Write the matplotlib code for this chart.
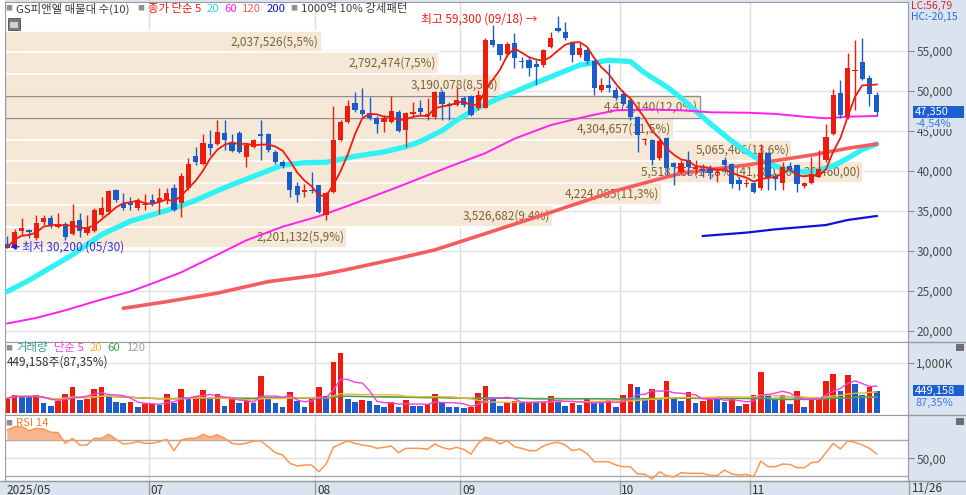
import matplotlib
matplotlib.use("Agg")
import matplotlib.pyplot as plt
import matplotlib.transforms as mtransforms
from matplotlib.patches import Rectangle
from matplotlib.lines import Line2D
from matplotlib.ticker import FuncFormatter
import numpy as np
import pandas as pd

plt.rcParams['font.family'] = ['Noto Sans CJK KR', 'DejaVu Sans']

# daily candles, 2025-05-29 .. 2025-11-26
opens = [30800, 30400, 32450, 32600, 31550, 33600, 34150, 33000, 33400, 32150,
         33900, 32250, 32500, 34450, 34900, 37650, 35900, 36000, 35300, 35700,
         36400, 36150, 36350, 37900, 36000, 37900, 41850, 40850, 43400, 43400,
         44700, 43650, 44750, 41700, 43000, 44600, 44600, 42400, 41100, 39900,
         38100, 37400, 37600, 38200, 34500, 37400, 43850, 46150, 48500, 47650,
         47250, 46650, 46150, 46100, 47400, 45100, 47150, 47850, 46800, 46750,
         49850, 48400, 48200, 49100, 49300, 47800, 47900, 56350, 55800, 54650,
         56000, 53750, 53900, 53400, 53200, 55500, 57800, 57400, 56000, 54450,
         55150, 53750, 50100, 50700, 50100, 49650, 48900, 46750, 43800, 43900,
         41550, 44150, 41000, 39900, 41350, 40250, 40200, 40200, 39700, 41400,
         40900, 38900, 38300, 38500, 37800, 42200, 39300, 38500, 40600, 40700,
         38050, 38500, 39250, 41300, 44650, 49700, 46700, 52500, 53650, 51650, 49500]
highs = [31800, 32700, 34150, 32700, 34450, 34450, 34450, 34750, 33600, 35900,
         34750, 34450, 35400, 36750, 37650, 37700, 37250, 36750, 36650, 37150,
         37100, 37900, 37900, 38350, 39750, 41550, 43000, 44600, 45150, 46400,
         46400, 44650, 45000, 43500, 44000, 46400, 44700, 42600, 41300, 39900,
         38600, 38400, 39900, 38200, 37300, 48100, 46350, 48800, 49900, 50300,
         49200, 46900, 46950, 49300, 47600, 47400, 48600, 48800, 49100, 50000,
         50100, 48650, 50300, 49300, 49500, 50100, 56550, 58200, 55900, 56150,
         57200, 54250, 54350, 53850, 55200, 57400, 59300, 58600, 56150, 56150,
         55300, 53850, 51550, 53400, 50500, 50100, 49150, 46900, 44100, 44000,
         44000, 44250, 41100, 41300, 42500, 41300, 40900, 40700, 40400, 41750,
         41000, 39250, 39000, 38600, 43400, 42400, 39700, 41100, 41100, 40900,
         38600, 41700, 42600, 45800, 50200, 51300, 54750, 56350, 56550, 52000, 49900]
lows = [30300, 30200, 31950, 31600, 31350, 33200, 32800, 32800, 31350, 31950,
        31750, 31950, 32400, 34250, 34650, 36100, 35100, 35100, 35100, 35100,
        35600, 34650, 35900, 35000, 34250, 37650, 40700, 40700, 41950, 43200,
        42600, 42400, 42250, 40500, 42800, 41300, 42400, 40900, 40400, 36750,
        36100, 36750, 37200, 34700, 33900, 37200, 43700, 46000, 47400, 46800,
        46300, 44700, 44900, 46000, 44850, 43000, 46700, 46900, 46300, 46500,
        46300, 46300, 48050, 48000, 46800, 47600, 47800, 55500, 53850, 54250,
        52800, 52800, 51800, 50700, 53000, 55300, 57400, 56350, 53650, 54250,
        53400, 49450, 49900, 49900, 48900, 48200, 46350, 42400, 43200, 40700,
        41300, 39450, 38200, 39700, 39500, 39650, 39200, 39000, 38600, 39900,
        37800, 37600, 38000, 37200, 37600, 37600, 37600, 37600, 39900, 37400,
        37900, 38300, 39200, 41100, 44450, 46650, 46500, 47600, 51350, 48100, 46850]
closes = [30400, 32400, 32800, 32300, 33500, 34050, 33100, 33300, 31750, 33750,
          32500, 32800, 35100, 35300, 37500, 36350, 35400, 35700, 36350, 35900,
          35900, 36650, 37250, 35100, 39350, 40850, 41150, 43500, 42800, 44900,
          43900, 42500, 42400, 43200, 43850, 44350, 42600, 41100, 40600, 37600,
          37000, 37600, 37500, 34900, 37250, 43850, 46150, 48100, 47600, 47150,
          46550, 45850, 46600, 47500, 45000, 47200, 47350, 47400, 47150, 49850,
          48400, 48100, 48850, 48250, 47000, 49500, 56400, 55700, 54450, 55900,
          54050, 53650, 52900, 53000, 55100, 56550, 57500, 56550, 54450, 55300,
          53750, 50400, 50700, 50300, 49150, 48400, 46700, 44450, 44000, 41350,
          43750, 40400, 40500, 41000, 40500, 40450, 40000, 39750, 39850, 40700,
          38350, 38350, 38450, 37400, 42250, 39050, 39000, 40500, 40150, 38400,
          38450, 39600, 40200, 44250, 49450, 46950, 52900, 52600, 51450, 49600, 47350]
volumes = [300000, 367000, 333000, 330000, 353000, 213000, 147000, 253000, 387000, 513000,
           267000, 280000, 480000, 513000, 313000, 233000, 213000, 233000, 120000, 187000,
           190000, 167000, 373000, 213000, 480000, 280000, 333000, 460000, 293000, 373000,
           147000, 280000, 213000, 247000, 213000, 733000, 300000, 213000, 133000, 413000,
           253000, 133000, 300000, 520000, 333000, 1020000, 1200000, 280000, 233000, 267000,
           247000, 167000, 133000, 233000, 133000, 267000, 147000, 145000, 187000, 373000,
           213000, 133000, 120000, 100000, 133000, 407000, 533000, 287000, 153000, 213000,
           247000, 200000, 233000, 213000, 220000, 333000, 267000, 153000, 200000, 167000,
           300000, 200000, 195000, 267000, 120000, 353000, 587000, 520000, 300000, 480000,
           300000, 647000, 300000, 253000, 413000, 213000, 247000, 300000, 295000, 233000,
           280000, 147000, 187000, 367000, 820000, 347000, 280000, 367000, 187000, 447000,
           120000, 300000, 313000, 647000, 787000, 433000, 767000, 587000, 367000, 514200, 449158]
rsi14 = [81.5, 85.2, 85.2, 80.8, 83.4, 82.6, 79.0, 78.6, 66.6, 72.2,
         64.7, 64.7, 72.2, 72.2, 76.7, 71.1, 65.9, 66.6, 68.5, 66.6,
         66.6, 68.5, 71.1, 58.4, 70.3, 72.2, 72.2, 76.7, 73.4, 76.3,
         72.2, 66.6, 65.5, 66.6, 69.3, 69.3, 62.8, 56.1, 53.5, 44.2,
         41.2, 42.3, 42.3, 34.8, 43.4, 62.1, 65.9, 69.3, 66.6, 64.7,
         63.6, 61.0, 62.1, 63.6, 56.1, 61.0, 61.0, 61.0, 59.9, 65.9,
         62.1, 59.9, 62.1, 59.9, 54.6, 66.6, 73.4, 71.1, 65.9, 69.6,
         62.8, 61.0, 58.4, 58.4, 63.6, 66.6, 67.8, 64.7, 58.4, 60.2,
         55.3, 46.0, 46.0, 46.0, 42.3, 40.4, 40.4, 32.2, 32.0, 26.6,
         34.8, 30.3, 29.0, 33.7, 33.0, 33.0, 33.0, 30.6, 30.6, 36.7,
         32.2, 31.0, 31.8, 29.2, 46.8, 40.4, 40.4, 43.4, 43.0, 39.3,
         39.3, 44.9, 46.0, 56.1, 66.6, 60.2, 69.3, 67.8, 64.7, 61.0, 54.6]

# moving averages (they need history before the first candle)
ma20_idx = [0, 3, 6, 9, 13, 17, 20, 23, 26, 29, 31, 34, 38, 41, 44, 48, 52, 55, 57, 60, 62,
            65, 68, 73, 79, 83, 86, 88, 91, 93, 95, 97, 100, 102, 104, 107, 109, 111, 114, 116, 118, 120]
ma20_val = [24900, 26300, 27900, 29500, 32000, 33700, 34500, 35300, 36300, 37500, 38250, 39300,
            40700, 41000, 41050, 41800, 42350, 43000, 43650, 45000, 46300, 47900, 49100, 51000,
            53200, 53800, 53650, 52200, 50500, 49100, 47500, 45900, 43700, 42400, 41250, 40250,
            39880, 39850, 40600, 41550, 42650, 43340]
ma60_idx = [0, 4, 8, 13, 17, 20, 24, 29, 33, 38, 43, 47, 54, 61, 66, 70, 75, 80, 84, 89, 93,
            97, 102, 106, 110, 113, 116, 120]
ma60_val = [20900, 21600, 22550, 23900, 24900, 25900, 27300, 29500, 31300, 33000, 34300, 35600,
            38000, 40500, 42200, 44000, 45700, 46800, 47550, 47650, 47550, 47300, 47250, 47100,
            46750, 46550, 46750, 46840]
ma120_idx = [16, 22, 29, 36, 43, 47, 54, 59, 65, 74, 84, 93, 102, 111, 116, 120]
ma120_val = [22800, 23630, 24700, 26130, 26950, 27670, 29050, 30100, 31850, 34500, 37500, 39700,
             40700, 41950, 42800, 43340]
ma200_idx = [96, 102, 106, 113, 116, 120]
ma200_val = [31840, 32260, 32670, 33210, 33840, 34340]

# volume profile (매물대), bottom band first
band_base = 30300
band_step = 2720
band_vols = [2201132, 3526682, 4224085, 5518255, 5065466, 4304657, 4474140, 3190078, 2792474, 2037526]

month_pos = [19.5, 42.5, 62.5, 84.5, 102.5]
month_labels = ['07', '08', '09', '10', '11']
first_label = '2025/05'
last_label = '11/26'
hi_date = '09/18'
lo_date = '05/30'

W, H = 966, 495
fig = plt.figure(figsize=(W / 100, H / 100), dpi=100, facecolor='#d9e4f0')
renderer = fig.canvas.get_renderer()


def add_ax(l, t, r, b):
    return fig.add_axes([l / W, 1 - b / H, (r - l) / W, (b - t) / H])


def ftext(x, y, s, **kw):
    kw.setdefault('va', 'center')
    kw.setdefault('fontsize', 8.5)
    return fig.text(x / W, 1 - y / H, s, **kw)


def frect(x, y, w, h, **kw):
    fig.add_artist(Rectangle((x / W, 1 - (y + h) / H), w / W, h / H,
                             transform=fig.transFigure, **kw))


def fline(x0, y0, x1, y1, **kw):
    fig.add_artist(Line2D([x0 / W, x1 / W], [1 - y0 / H, 1 - y1 / H],
                          transform=fig.transFigure, **kw))


def legend_row(x0, y, parts, fs=8.2):
    # lay the pieces one after another, return their pixel extents
    spans = []
    xp = x0
    for s, col, gap in parts:
        t = ftext(xp, y, s, color=col, fontsize=5 if s == '■' else fs)
        w = t.get_window_extent(renderer).width
        spans.append((xp, xp + w))
        xp += w + gap
    return spans


frect(0, 0, 5, 481, facecolor='white', edgecolor='none')

ax1 = add_ax(5, 2, 908, 341.7)
ax2 = add_ax(5, 341.7, 908, 414.5)
ax3 = add_ax(5, 414.5, 908, 481)

x = np.arange(len(closes))
o = np.array(opens); h = np.array(highs); l = np.array(lows); c = np.array(closes)

for ax in (ax1, ax2, ax3):
    ax.set_facecolor('white')
    ax.set_xlim(-0.32, 124.32)
    ax.set_xticks(month_pos)
    ax.tick_params(axis='x', bottom=False, labelbottom=False)
    ax.grid(True, axis='x', color='#dedede', lw=1)
    ax.set_axisbelow(True)
    for sp in ax.spines.values():
        sp.set_color('#9a9a9a')
    ax.yaxis.tick_right()
    ax.tick_params(axis='y', length=4, width=0.8, color='#8a8a8a', labelsize=8.5,
                   labelcolor='#4a4a4a', pad=2)

# ---- price panel ----
ax1.set_ylim(18625, 61088)
ax1.set_yticks(np.arange(20000, 55001, 5000))
ax1.yaxis.set_major_formatter(FuncFormatter(lambda v, p: f"{int(v):,}"))
ax1.grid(True, axis='y', color='#e2e2e2', lw=1)

bv = np.array(band_vols)
band_lo = band_base + band_step * np.arange(len(bv))
mids = band_lo + band_step / 2
left = -0.32
widths = bv / bv.max() * 118.4
cur = int((c[-1] - band_base) // band_step)
big = int(bv.argmax())
ax1.barh(mids, widths, height=band_step, left=left, color='#f6e8d6',
         edgecolor='white', linewidth=1.2, zorder=1)
ax1.add_patch(Rectangle((left, band_lo[cur]), widths[cur], band_step, fill=False,
                        edgecolor='#8f8f8f', lw=1, zorder=1.5))
total = bv.sum()
for k, v in enumerate(bv):
    s = f"{v:,}(" + f"{v / total * 100:.1f}".replace('.', ',') + "%)"
    if k == big:
        s += f"({band_lo[k] + band_step:,.2f} ~ {band_lo[k]:,.2f})".replace('.', ',')
    ax1.text(left + widths[k] - 0.4, mids[k], s, ha='right', va='center',
             fontsize=8.5, color='#7b6335', zorder=2)

ax1.plot(ma20_idx, ma20_val, color='#30f2f4', lw=3.8, zorder=3, solid_capstyle='round')
ax1.plot(ma60_idx, ma60_val, color='#ff20f0', lw=1.4, zorder=3)
ax1.plot(ma120_idx, ma120_val, color='#f65c5c', lw=2.6, zorder=3, solid_capstyle='round')
ax1.plot(ma200_idx, ma200_val, color='#1010dd', lw=1.6, zorder=3)

up = c >= o
ccol = np.where(up, '#ee1c0e', '#1a5ccc')
ax1.vlines(x, l, h, colors=ccol, lw=1, zorder=4)
ax1.bar(x, np.maximum(np.abs(c - o), 80), bottom=np.minimum(o, c), width=0.72,
        color=ccol, linewidth=0, zorder=4)

ma5 = pd.Series(c).rolling(5, min_periods=1).mean()
ax1.plot(x, ma5, color='#ee1c0e', lw=1.3, zorder=5)

imax = int(h.argmax())
ax1.text(imax - 2.9, h[imax] - 400, f"최고 {h[imax]:,} ({hi_date}) →", ha='right',
         va='center', color='#ee1c0e', fontsize=8.5, zorder=6)
imin = int(l.argmin())
ax1.annotate(f"최저 {l[imin]:,} ({lo_date})", xy=(imin - 0.6, l[imin] + 300),
             xytext=(imin + 1.0, l[imin] + 300), ha='left', va='center',
             color='#3030e8', fontsize=8.5, zorder=6,
             arrowprops=dict(arrowstyle='-|>', color='#2020e0', lw=1,
                             shrinkA=0, shrinkB=0, mutation_scale=8))

# ---- volume panel ----
vol = np.array(volumes)
vup = np.r_[True, vol[1:] >= vol[:-1]]
ax2.bar(x, vol, width=0.78, color=np.where(vup, '#ee1c0e', '#1a5ccc'), linewidth=0, zorder=2)
vs = pd.Series(vol)
for n, col in zip([120, 60, 20, 5], ['#a6a6a6', '#3aa64a', '#f2b431', '#f040e0']):
    ax2.plot(x, vs.rolling(n, min_periods=1).mean(), color=col, lw=1, zorder=3)
ax2.set_ylim(-23800, 1417700)
ax2.set_yticks([1000000])
ax2.set_yticklabels(['1,000K'])
ax2.grid(True, axis='y', color='#e2e2e2', lw=1)

# ---- RSI panel ----
r = np.array(rsi14)
ax3.fill_between(x, r, 70, where=r >= 70, interpolate=True, color='#f6b590', lw=0, zorder=2)
ax3.plot(x, r, color='#ff9650', lw=1.1, zorder=3)
ax3.axhline(70, color='#a8a8a8', lw=1, zorder=1)
ax3.axhline(30, color='#a8a8a8', lw=1, zorder=1)
ax3.set_ylim(24.4, 98.9)
ax3.set_yticks([50])
ax3.set_yticklabels(['50,00'])
ax3.grid(True, axis='y', color='#e2e2e2', lw=1)

# ---- date strip ----
blend = mtransforms.blended_transform_factory(ax3.transData, ax3.transAxes)
ax3.text(-0.1, -0.04, first_label, transform=blend, ha='left', va='top',
         fontsize=8.5, color='#333333', clip_on=False)
for pos, lab in zip(month_pos, month_labels):
    ax3.plot([pos, pos], [0, -0.22], transform=blend, color='#9a9a9a', lw=1, clip_on=False)
    ax3.text(pos + 0.25, -0.04, lab, transform=blend, ha='left', va='top',
             fontsize=8.5, color='#333333', clip_on=False)
ftext(912, 488, last_label, color='#333333')

fline(908, 341.7, 966, 341.7, color='#9a9a9a', lw=1)
fline(908, 414.5, 966, 414.5, color='#9a9a9a', lw=1)
fline(0, 481, 966, 481, color='#9a9a9a', lw=1)
fline(908.5, 481, 908.5, 495, color='#9a9a9a', lw=1)

# ---- legends ----
spans = legend_row(5, 8.5, [('■', '#909090', 4), ('GS피앤엘 매물대 수(10)', '#3c3c3c', 8),
                            ('■', '#909090', 4), ('종가 단순 5', '#ee1c0e', 5),
                            ('20', '#22dde0', 5), ('60', '#ff20f0', 5), ('120', '#f65c5c', 5),
                            ('200', '#1010dd', 5), ('■', '#909090', 4),
                            ('1000억 10% 강세패턴', '#3c3c3c', 0)])
bx0, bx1 = spans[1]
frect(bx0 - 3, 2, bx1 - bx0 + 5, 13, facecolor='#e6e6e6', edgecolor='#b4b4b4', lw=0.8, zorder=0)
frect(8, 18, 12, 12, facecolor='#7a7a7a', edgecolor='#505050', lw=0.6)
frect(10, 22, 8, 6, facecolor='#d0d0d0', edgecolor='none')

legend_row(5, 348, [('■', '#909090', 4), ('거래량', '#2f9c9c', 6), ('단순 5', '#f040e0', 6),
                    ('20', '#f2b431', 6), ('60', '#3aa64a', 6), ('120', '#a0a0a0', 0)])
ftext(7, 362, f"{vol[-1]:,}주(" + f"{vol[-1] / vol[-2] * 100:.2f}".replace('.', ',') + "%)",
      color='#333333')
legend_row(5, 423, [('■', '#909090', 4), ('RSI 14', '#f08030', 0)])

# ---- right side boxes ----
ftext(911, 6, 'LC:56,79', color='#e82020', fontsize=7.5)
ftext(911, 17, 'HC:-20,15', color='#2a6ad8', fontsize=7.5)
yc = H - ax1.transData.transform((0, c[-1]))[1]
frect(912.5, yc - 5.8, 51.5, 11.6, facecolor='#1c5fd0', edgecolor='none')
ftext(915, yc, f"{c[-1]:,}", color='white', fontsize=8)
chg = (c[-1] / c[-2] - 1) * 100
ftext(915, yc + 12, f"{chg:.2f}%".replace('.', ','), color='#3a7ae0', fontsize=8,
      bbox=dict(facecolor='#d9e4f0', edgecolor='none', pad=0.3))

yv = H - ax2.transData.transform((0, vol[-1]))[1]
frect(912.5, yv - 5.8, 51.5, 11.6, facecolor='#1c5fd0', edgecolor='none')
ftext(915, yv, f"{vol[-1]:,}", color='white', fontsize=8)
ftext(915, yv + 12, f"{vol[-1] / vol[-2] * 100:.2f}%".replace('.', ','), color='#3a7ae0',
      fontsize=8)

frect(956, 344, 8, 7, facecolor='#6e6e6e', edgecolor='none')
frect(956, 418, 8, 7, facecolor='#6e6e6e', edgecolor='none')

fig.savefig('out.png', dpi=100, facecolor=fig.get_facecolor())
